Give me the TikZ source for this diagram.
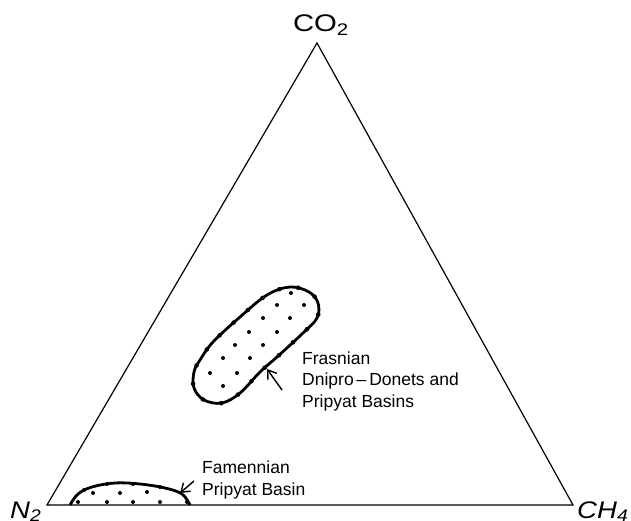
\documentclass[tikz,border=0pt]{standalone}
\usepackage{fontspec}
\usepackage{graphicx}
\setmainfont{Liberation Sans}
\usetikzlibrary{arrows.meta,decorations.markings}
\begin{document}
\begin{tikzpicture}[x=1pt,y=-1pt,
  tri/.style={line width=1.2pt, line join=miter},
  blob/.style={line width=2.8pt},
  bdots/.style={postaction={decorate, decoration={markings,
     mark=between positions 0.02 and 0.99 step 19pt with {\fill circle (2.3pt);}}}},
  pointer/.style={line width=1.4pt,-{Straight Barb[length=8pt,width=11pt,line width=1.4pt]}},
  lab/.style={font=\fontsize{17.5}{21.5}\selectfont, align=left, inner sep=0pt, anchor=base west},
  vlab/.style={font=\fontsize{24}{26}\selectfont, inner sep=0pt}]
\useasboundingbox (0,0) rectangle (631,521);
% triangle
\coordinate (top) at (317,43);
\coordinate (left) at (47,505);
\coordinate (right) at (573,505);
\draw[tri] (left) -- (top) -- (right) -- cycle;
% vertex labels
\node[vlab, anchor=base] (co2) at (321,32) {\scalebox{1.22}[1]{CO\textsubscript{2}}};
\node[vlab, anchor=base west] (n2) at (10,518) {\scalebox{1.15}[1]{\itshape N\textsubscript{2}}};
\node[vlab, anchor=base west] (ch4) at (577,518) {\scalebox{1.15}[1]{\itshape CH\textsubscript{4}}};
% Frasnian blob
\draw[blob, bdots] plot[smooth cycle, tension=0.6] coordinates {
  (290,287) (309,292) (318,303) (317,318) (303,333) (277,357) (260,372)
  (240,393) (222,403) (204,400) (194,388) (194,372) (200,360) (213,342)
  (240,317) (267,295)};
\foreach \p in {(291,293),(277,305),(304,305),(263,318),(290,318),
  (249,332),(277,332),(235,345),(263,345),(223,358),(250,358),
  (210,373),(237,373),(223,386)}
  \fill \p circle (2pt);
% Famennian blob
\draw[blob] plot[smooth, tension=0.6] coordinates {
  (70,505) (78,494) (92,487) (115,483) (140,484) (165,488) (182,494) (190,505)};
\foreach \p in {(93,493),(120,493),(147,492),(78,502),(107,502),(133,502),(160,502),(187,502),
  (84,490),(107,484),(133,484),(160,487)}
  \fill \p circle (2pt);
% labels
\node[lab] (fras) at (302,407) {Frasnian\\Dnipro\,–\,Donets and\\Pripyat Basins};
\node[lab] (fam) at (202,495) {Famennian\\Pripyat Basin};
\coordinate (frastail) at (282,390);
\coordinate (frastip) at (267,369);
\coordinate (famtail) at (194,481);
\coordinate (famtip) at (180,493);
\draw[pointer] (frastail) -- (frastip);
\draw[pointer] (famtail) -- (famtip);
\end{tikzpicture}
\end{document}
